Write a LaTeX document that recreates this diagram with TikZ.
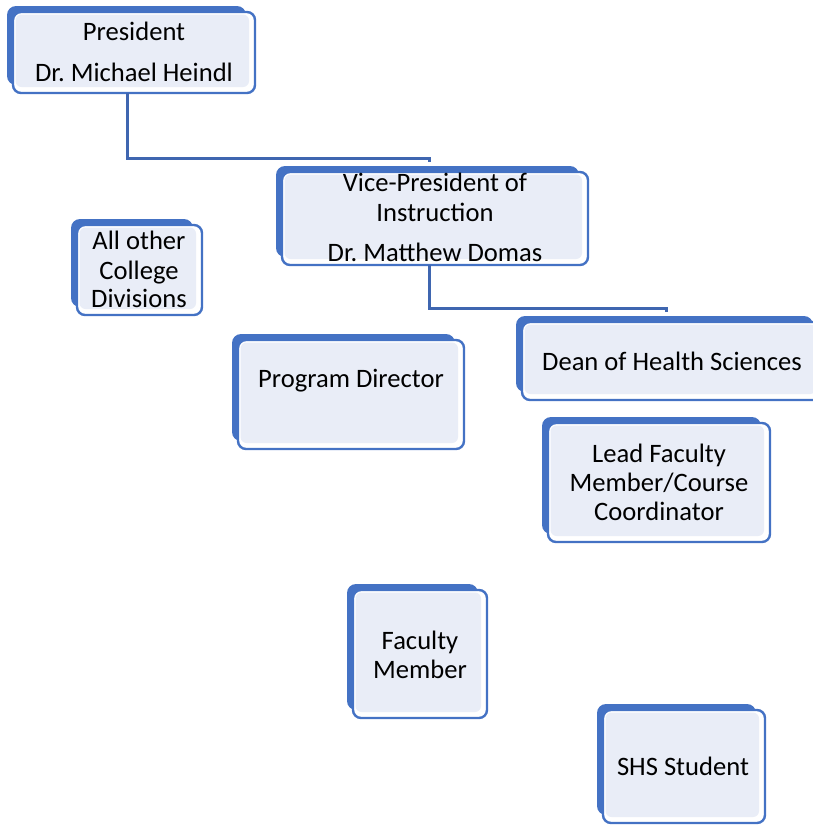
\documentclass[tikz,border=0pt]{standalone}
\usepackage{fontspec}
\setmainfont{Carlito}
\frenchspacing
\definecolor{bblue}{HTML}{4472C4}
\definecolor{lfill}{HTML}{E9EDF7}
\definecolor{cblue}{HTML}{3F66B0}
\tikzset{
  frontbox/.style={draw=bblue, line width=2.4pt, fill=white, rounded corners=8pt, inner sep=0pt, outer sep=0pt},
  conn/.style={draw=cblue, line width=3pt},
  txt/.style={font=\fontsize{26.6}{30}\selectfont, text=black, inner sep=0pt, anchor=base},
}
\newcommand\orgbox[5]{%
  \fill[bblue, rounded corners=9pt] (#2-6,#3-6) rectangle (#4-9,#5-8);
  \node[frontbox, minimum width={#4-#2}, minimum height={#5-#3}] (#1) at ({(#2+#4)/2},{(#3+#5)/2}) {};
  \fill[lfill, rounded corners=6pt] (#2+2.5,#3+2.5) rectangle (#4-6,#5-6);
}
\begin{document}
\begin{tikzpicture}[x=1pt,y=-1pt]
\useasboundingbox (0,0) rectangle (813,825);
\clip (0,0) rectangle (813,825);
\orgbox{pres}{13}{12}{255}{93}
\orgbox{vp}{282}{172}{588}{265}
\orgbox{other}{77}{225}{202}{315}
\orgbox{pd}{238}{340}{464}{449}
\orgbox{dean}{522}{322}{822}{400}
\orgbox{lead}{548}{423}{770}{542}
\orgbox{fac}{353}{590}{487}{718}
\orgbox{shs}{603}{710}{765}{823}
% connectors
\draw[conn] ([xshift=-7pt]pres.south) -- ++(0,65) -| ([xshift=-6pt,yshift=10pt]vp.north);
\draw[conn] ([xshift=-6pt]vp.south) -- ++(0,43) -| ([xshift=-6pt,yshift=10pt]dean.north);
% texts
\node[txt] (pres1) at (134,40) {President};
\node[txt] (pres2) at (134,81) {Dr. Michael Heindl};
\node[txt] (vp1) at (435,191) {Vice-President of};
\node[txt] (vp2) at (435,221) {Instruction};
\node[txt] (vp3) at (435,261) {Dr. Matthew Domas};
\node[txt] (ot1) at (139,249) {All other};
\node[txt] (ot2) at (139,279) {College};
\node[txt] (ot3) at (139,307) {Divisions};
\node[txt] (pd1) at (351,387) {Program Director};
\node[txt] (de1) at (672,370) {Dean of Health Sciences};
\node[txt] (le1) at (659,462) {Lead Faculty};
\node[txt] (le2) at (659,491) {Member/Course};
\node[txt] (le3) at (659,520) {Coordinator};
\node[txt] (fa1) at (420,649) {Faculty};
\node[txt] (fa2) at (420,678) {Member};
\node[txt] (sh1) at (683,775) {SHS Student};
\end{tikzpicture}
\end{document}
